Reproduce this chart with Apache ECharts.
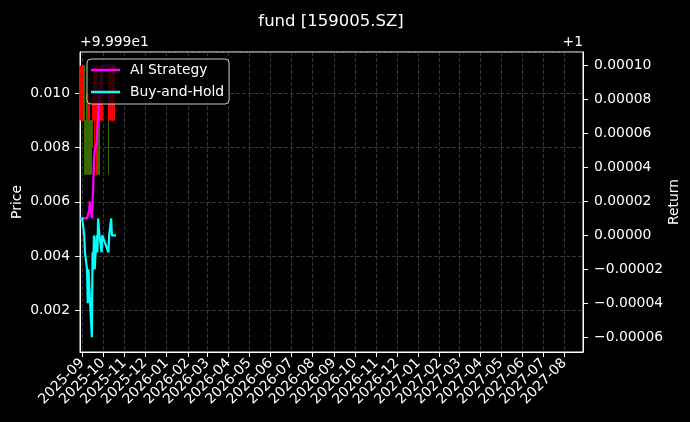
<!DOCTYPE html>
<html><head><meta charset="utf-8">
<script src="https://cdn.jsdelivr.net/npm/echarts@6/dist/echarts.min.js"></script>
<style>html,body{margin:0;padding:0;background:#000;}#c{width:690px;height:422px;}</style>
</head><body><div id="c"></div>
<script>
// ---- data ----
const dates = ['2025-08-29','2025-09-01','2025-09-02','2025-09-03','2025-09-04','2025-09-05',
  '2025-09-08','2025-09-09','2025-09-10','2025-09-11','2025-09-12',
  '2025-09-15','2025-09-16','2025-09-17','2025-09-18','2025-09-19',
  '2025-09-22','2025-09-23','2025-09-24','2025-09-25','2025-09-26',
  '2025-09-29','2025-09-30','2025-10-09','2025-10-10',
  '2025-10-13','2025-10-14','2025-10-15','2025-10-16','2025-10-17','2025-10-20'];
const monthTicks = ['2025-09','2025-10','2025-11','2025-12','2026-01','2026-02','2026-03','2026-04',
  '2026-05','2026-06','2026-07','2026-08','2026-09','2026-10','2026-11','2026-12',
  '2027-01','2027-02','2027-03','2027-04','2027-05','2027-06','2027-07','2027-08'];
const priceOffset = 99.99;   // shown as "+9.999e1"
const returnOffset = 1;      // shown as "+1"
const openP  = [99.999,99.999,99.999,99.999,100.001,99.999,99.999,99.999,99.999,99.999,99.999,99.999,99.999,100.000,100.000,99.999,99.999,99.999,100.000,99.999,100.000,99.999,99.999,100.000,99.999,99.999,99.999,99.999,99.999,99.999,100.000];
const closeP = [100.001,100.001,100.001,100.001,99.999,99.997,99.997,100.000,100.000,99.997,99.997,99.998,100.000,100.000,100.001,100.001,100.001,100.001,99.998,99.997,99.999,100.001,100.001,100.000,100.001,100.001,100.001,100.001,100.001,100.001,100.000];
const lowP   = [99.999,99.999,99.999,99.999,99.998,99.997,99.997,99.998,99.999,99.997,99.997,99.997,99.999,99.999,99.999,99.997,99.997,99.998,99.997,99.997,99.997,99.999,99.999,99.997,99.999,99.999,99.999,99.999,99.999,99.999,100.000];
const highP  = [100.001,100.001,100.001,100.001,100.001,99.999,100.000,100.000,100.000,99.999,100.000,99.999,100.000,100.001,100.001,100.001,100.001,100.001,100.001,100.000,100.000,100.001,100.001,100.001,100.001,100.001,100.001,100.001,100.001,100.001,100.000];
// returns relative to the +1 offset
const aiReturn = [0.00001,0.00001,0.00001,0.00001,0.00001,0.00001,0.00001,0.00001,0.00001,0.000015,0.00002,0.00001,0.00002,0.00003,0.000045,0.00005,0.000055,0.000063,0.000068,0.000077,0.000085,0.000095,0.0001,0.0001,0.0001,0.0001,0.0001,0.0001,0.0001,0.0001,0.0001];
const bhReturn = [0.00001,0.00001,0.00001,0.00001,0,-0.00001,-0.00002,-0.00004,-0.00002,-0.00002,-0.00002,-0.00006,-0.00001,-0.00002,0,-0.00002,0,-0.00001,0.00001,0.00001,0,-0.00001,0,-0.00001,0,0.00001,0,0,0,0,0];
const seriesNames = ['AI Strategy','Buy-and-Hold'];
const titleText = 'fund [159005.SZ]';

// ---- build ----
const F = 'DejaVu Sans';
const toTs = s => {const p=s.split('-').map(Number); return +new Date(p[0],p[1]-1,p[2]||1);};
const candleData = dates.map((d,i)=>[toTs(d), openP[i]-priceOffset, closeP[i]-priceOffset, lowP[i]-priceOffset, highP[i]-priceOffset]);
const aiData = dates.map((d,i)=>[toTs(d), aiReturn[i]]);
const bhData = dates.map((d,i)=>[toTs(d), bhReturn[i]]);
const monthValues = monthTicks.map(toTs);
const pad2 = n => (n<10?'0':'')+n;
const chart = echarts.init(document.getElementById('c'), null, {renderer:'canvas'});
chart.setOption({
  backgroundColor:'#000',
  animation:false,
  textStyle:{fontFamily:F},
  grid:{left:80,right:107,top:52,bottom:70,show:true,borderColor:'#fff',borderWidth:1,backgroundColor:'transparent',
        containLabel:false,outerBoundsMode:'none'},
  graphic:[
    {type:'text',x:331,y:22,style:{text:titleText,fill:'#fff',font:'16.5px "DejaVu Sans"',align:'center',verticalAlign:'middle'}},
    {type:'text',x:80,y:42,style:{text:'+9.999e1',fill:'#fff',font:'13.9px "DejaVu Sans"',align:'left',verticalAlign:'middle'}},
    {type:'text',x:583,y:42,style:{text:'+1',fill:'#fff',font:'13.9px "DejaVu Sans"',align:'right',verticalAlign:'middle'}}
  ],
  legend:{
    data:seriesNames, orient:'vertical', left:87, top:59,
    padding:[4,5,5,4], itemGap:8, itemWidth:29, itemHeight:2.5, icon:'rect',
    backgroundColor:'rgba(0,0,0,0.8)', borderColor:'#cccccc', borderWidth:1, borderRadius:4,
    textStyle:{color:'#fff',fontSize:13.9,fontFamily:F,padding:[0,0,0,5]}
  },
  xAxis:{
    type:'value',
    min:+new Date(2025,7,28,19), max:+new Date(2027,7,27,19),
    axisLine:{onZero:false,lineStyle:{color:'#fff'}},
    axisTick:{show:true,length:5,lineStyle:{color:'#fff'},customValues:monthValues},
    axisLabel:{color:'#fff',fontSize:13.9,fontFamily:F,rotate:45,margin:9,hideOverlap:false,customValues:monthValues,
      showMinLabel:true,showMaxLabel:true,
      formatter:function(v){const d=new Date(v); return d.getFullYear()+'-'+pad2(d.getMonth()+1);}},
    splitLine:{show:true,lineStyle:{color:'#555',width:0.6,type:[4,2]}}
  },
  yAxis:[
    {type:'value',position:'left',min:0.000477,max:0.011505,minInterval:0.002,maxInterval:0.002,scale:true,
     name:'Price',nameLocation:'middle',nameRotate:90,nameGap:56,nameMoveOverlap:false,
     nameTextStyle:{color:'#fff',fontSize:13.9,fontFamily:F},
     axisLine:{show:true,onZero:false,lineStyle:{color:'#fff'}},
     axisTick:{show:true,length:5,lineStyle:{color:'#fff'}},
     axisLabel:{color:'#fff',fontSize:13.9,fontFamily:F,margin:10,showMinLabel:false,showMaxLabel:false,
       formatter:v=>v.toFixed(3)},
     splitLine:{show:true,lineStyle:{color:'#555',width:0.6,type:[4,2]}}},
    {type:'value',position:'right',min:-0.0000687,max:0.00010806,minInterval:0.00002,maxInterval:0.00002,scale:true,
     name:'Return',nameLocation:'middle',nameRotate:90,nameGap:84,nameMoveOverlap:false,
     nameTextStyle:{color:'#fff',fontSize:13.9,fontFamily:F},
     axisLine:{show:true,onZero:false,lineStyle:{color:'#fff'}},
     axisTick:{show:true,length:5,lineStyle:{color:'#fff'}},
     axisLabel:{color:'#fff',fontSize:13.9,fontFamily:F,margin:11,showMinLabel:false,showMaxLabel:false,
       formatter:v=>(v< -1e-12?'\u2212':'')+Math.abs(v).toFixed(5)},
     splitLine:{show:false}}
  ],
  series:[
    {type:'candlestick',name:'candles',xAxisIndex:0,yAxisIndex:0,data:candleData,encode:{x:0,y:[1,2,3,4]},
     barWidth:1.6,
     itemStyle:{color:'#ff0000',color0:'#3a6a00',borderColor:'#ff0000',borderColor0:'#3a6a00',borderWidth:1}},
    {type:'line',name:seriesNames[0],yAxisIndex:1,data:aiData,showSymbol:false,lineStyle:{color:'#ff00ff',width:2.2},itemStyle:{color:'#ff00ff'},z:3},
    {type:'line',name:seriesNames[1],yAxisIndex:1,data:bhData,showSymbol:false,lineStyle:{color:'#00ffff',width:2.2},itemStyle:{color:'#00ffff'},z:4}
  ]
});
</script></body></html>
